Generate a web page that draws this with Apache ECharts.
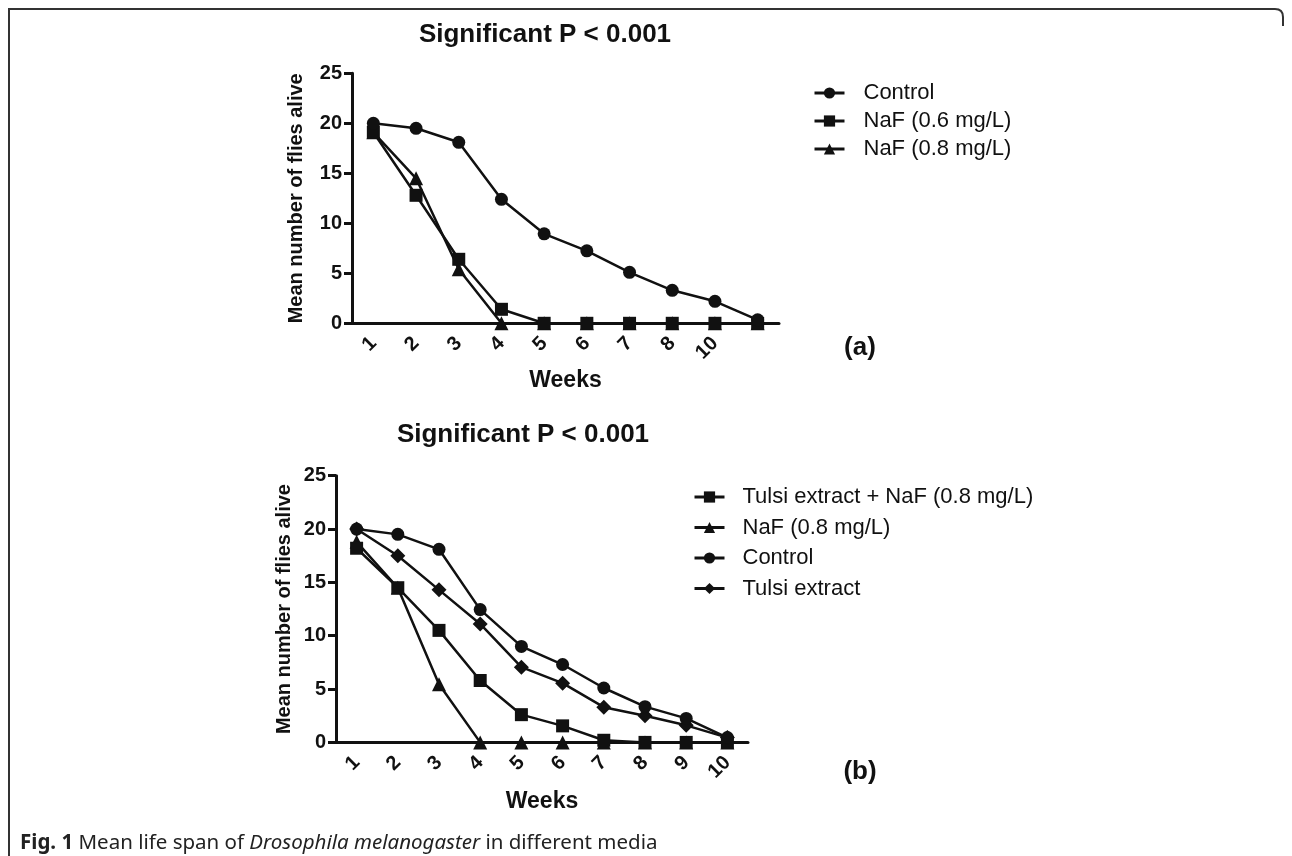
<!DOCTYPE html>
<html>
<head>
<meta charset="utf-8">
<script src="https://cdn.jsdelivr.net/npm/echarts@6/dist/echarts.min.js"></script>
<style>
html,body{margin:0;padding:0;background:#fff;}
#c{width:1292px;height:856px;}
</style>
</head>
<body>
<div id="c"></div>
<script>
// ---- data ----
const weeksA = ['1','2','3','4','5','6','7','8','10',''];
const controlA = [20, 19.5, 18.1, 12.4, 8.95, 7.25, 5.1, 3.3, 2.2, 0.35];
const naf06A   = [19.1, 12.8, 6.4, 1.4, 0, 0, 0, 0, 0, 0];
const naf08A   = [19.1, 14.5, 5.4, 0, 0, 0, 0, 0, 0, 0];

const weeksB = ['1','2','3','4','5','6','7','8','9','10'];
const tulsiNafB = [18.2, 14.5, 10.5, 5.8, 2.6, 1.55, 0.2, 0, 0, 0];
const naf08B    = [18.8, 14.5, 5.45, 0, 0, 0, 0, 0, 0, 0];
const controlB  = [20, 19.5, 18.1, 12.45, 9.0, 7.3, 5.1, 3.35, 2.25, 0.45];
const tulsiB    = [20, 17.5, 14.3, 11.1, 7.05, 5.55, 3.3, 2.5, 1.6, 0.45];

const yTicks = [0, 25, 5]; // min, max, interval

const titleText = 'Significant P < 0.001';
const yName = 'Mean number of flies alive';
const xName = 'Weeks';

// ---- chart ----
const FONT = '"Liberation Sans", Arial, Helvetica, sans-serif';
const INK = '#111';
const chart = echarts.init(document.getElementById('c'), null, {renderer: 'canvas'});

function xAx(idx, cats, gap) {
  return {
    type: 'category', gridIndex: idx, data: cats, boundaryGap: true,
    name: xName, nameLocation: 'middle', nameGap: gap,
    nameTextStyle: {color: INK, fontFamily: FONT, fontWeight: 'bold', fontSize: 23},
    axisLine: {lineStyle: {color: INK, width: 3}},
    axisTick: {alignWithLabel: true, length: 8, lineStyle: {color: INK, width: 3}},
    axisLabel: {rotate: 45, margin: 17, color: INK, fontFamily: FONT, fontWeight: 'bold', fontSize: 20, interval: 0},
    splitLine: {show: false}
  };
}
function yAx(idx, gap) {
  return {
    type: 'value', gridIndex: idx, min: yTicks[0], max: yTicks[1], interval: yTicks[2],
    name: yName, nameLocation: 'middle', nameGap: gap,
    nameTextStyle: {color: INK, fontFamily: FONT, fontWeight: 'bold', fontSize: 20},
    axisLine: {show: true, lineStyle: {color: INK, width: 3}},
    axisTick: {show: true, length: 8, lineStyle: {color: INK, width: 3}},
    axisLabel: {margin: 10, color: INK, fontFamily: FONT, fontWeight: 'bold', fontSize: 20},
    splitLine: {show: false}
  };
}
function ser(name, data, sym, size, idx) {
  return {
    type: 'line', name: name, data: data, xAxisIndex: idx, yAxisIndex: idx,
    symbol: sym, symbolSize: size, clip: false,
    lineStyle: {color: INK, width: 2.5}, itemStyle: {color: INK},
    emphasis: {disabled: true}, animation: false
  };
}
function leg(left, top, gap, names, pad) {
  return {
    orient: 'vertical', left: left, top: top, itemWidth: 30, itemHeight: 14, itemGap: gap,
    data: names, selectedMode: false,
    lineStyle: {width: 3, color: INK}, itemStyle: {color: INK},
    textStyle: {color: INK, fontFamily: FONT, fontSize: 22, padding: [0, 0, 0, pad]}
  };
}

const option = {
  backgroundColor: '#fff',
  animation: false,
  grid: [
    {left: 352, top: 73.3, width: 427, height: 250},
    {left: 336, top: 475.7, width: 412, height: 266.7}
  ],
  xAxis: [xAx(0, weeksA, 46), xAx(1, weeksB, 48)],
  yAxis: [yAx(0, 46), yAx(1, 42)],
  legend: [
    leg(808, 77, 6, ['Control', 'NaF (0.6 mg/L)', 'NaF (0.8 mg/L)'], 14),
    leg(688, 481, 8.5, ['Tulsi extract + NaF (0.8 mg/L)', 'NaF (0.8 mg/L) ', 'Control ', 'Tulsi extract'], 13)
  ],
  series: [
    ser('NaF (0.8 mg/L)', naf08A, 'triangle', 14, 0),
    ser('NaF (0.6 mg/L)', naf06A, 'rect', 13, 0),
    ser('Control', controlA, 'circle', 13, 0),
    ser('NaF (0.8 mg/L) ', naf08B, 'triangle', 14, 1),
    ser('Tulsi extract + NaF (0.8 mg/L)', tulsiNafB, 'rect', 13, 1),
    ser('Tulsi extract', tulsiB, 'diamond', 15, 1),
    ser('Control ', controlB, 'circle', 13, 1)
  ],
  graphic: [
    {type: 'polyline', shape: {points: [[9, 856], [9, 9], [1275, 9]]},
     style: {stroke: '#333', lineWidth: 2, fill: null}, silent: true},
    {type: 'bezierCurve', shape: {x1: 1275, y1: 9, cpx1: 1283, cpy1: 9, x2: 1283, y2: 17},
     style: {stroke: '#333', lineWidth: 2, fill: null}, silent: true},
    {type: 'line', shape: {x1: 1283, y1: 17, x2: 1283, y2: 26},
     style: {stroke: '#333', lineWidth: 2}, silent: true},
    {type: 'text', x: 545, y: 35, style: {text: titleText, font: 'bold 26px ' + FONT, fill: INK, textAlign: 'center', textVerticalAlign: 'middle'}},
    {type: 'text', x: 523, y: 435, style: {text: titleText, font: 'bold 26px ' + FONT, fill: INK, textAlign: 'center', textVerticalAlign: 'middle'}},
    {type: 'text', x: 860, y: 348, style: {text: '(a)', font: 'bold 26px ' + FONT, fill: INK, textAlign: 'center', textVerticalAlign: 'middle'}},
    {type: 'text', x: 860, y: 772, style: {text: '(b)', font: 'bold 26px ' + FONT, fill: INK, textAlign: 'center', textVerticalAlign: 'middle'}},
    {type: 'text', x: 20, y: 843, style: {
      text: '{b|Fig. 1} Mean life span of {i|Drosophila melanogaster} in different media',
      font: '20.5px "Noto Sans"', fill: '#222', textVerticalAlign: 'middle',
      rich: {b: {fontWeight: 'bold', fontFamily: 'Noto Sans', fontSize: 20.5, fill: '#222'},
             i: {fontStyle: 'italic', fontFamily: 'Noto Sans', fontSize: 20.5, fill: '#222'}}
    }}
  ]
};
chart.setOption(option);
</script>
</body>
</html>
